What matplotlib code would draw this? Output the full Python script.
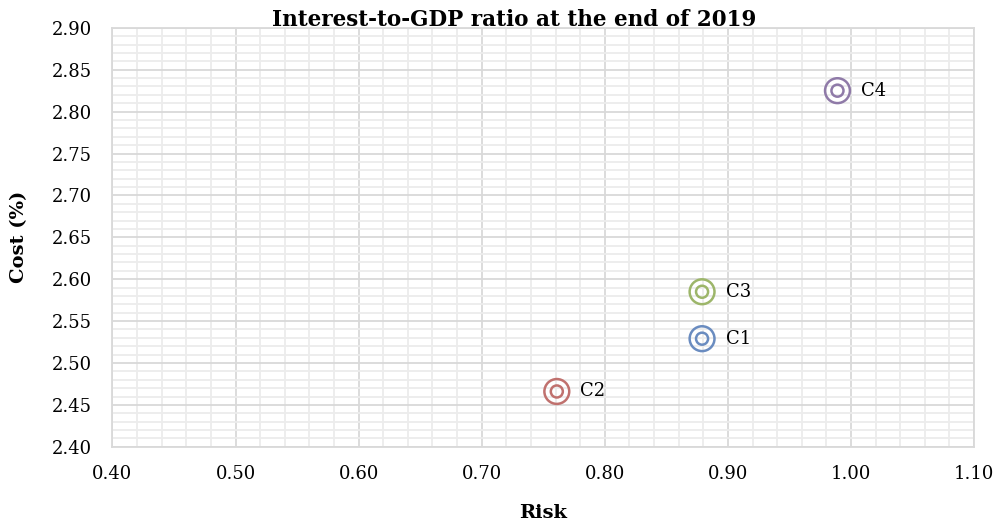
import matplotlib.pyplot as plt
from matplotlib.ticker import MultipleLocator, FormatStrFormatter

names = ['C1', 'C2', 'C3', 'C4']
risk = [0.879, 0.761, 0.879, 0.989]
cost = [2.529, 2.466, 2.585, 2.825]
colors = ['#6a8cc0', '#c0716e', '#9db66a', '#8f7aa8']

plt.rcParams['font.family'] = ['DejaVu Serif']

fig, ax = plt.subplots(figsize=(9.95, 5.25), dpi=100)
fig.subplots_adjust(left=0.113, right=0.979, top=0.947, bottom=0.149)

for n, x, y, c in zip(names, risk, cost, colors):
    ax.scatter(x, y, s=320, facecolors='none', edgecolors=c, linewidths=1.8, zorder=3)
    ax.scatter(x, y, s=75, facecolors='none', edgecolors=c, linewidths=1.8, zorder=3)
    ax.annotate(n, (x, y), xytext=(17, 0), textcoords='offset points',
                va='center', ha='left', fontsize=13)

ax.set_xlim(0.40, 1.10)
ax.set_ylim(2.40, 2.90)
ax.xaxis.set_major_locator(MultipleLocator(0.1))
ax.xaxis.set_minor_locator(MultipleLocator(0.02))
ax.yaxis.set_major_locator(MultipleLocator(0.05))
ax.yaxis.set_minor_locator(MultipleLocator(0.01))
ax.xaxis.set_major_formatter(FormatStrFormatter('%.2f'))
ax.yaxis.set_major_formatter(FormatStrFormatter('%.2f'))

ax.grid(which='major', color='#d9d9d9', linewidth=1.3)
ax.grid(which='minor', color='#ececec', linewidth=1.3)
ax.set_axisbelow(True)
for s in ax.spines.values():
    s.set_color('#d9d9d9')
    s.set_linewidth(1.3)
ax.tick_params(which='both', length=0, labelsize=13)
ax.tick_params(axis='x', pad=13)
ax.tick_params(axis='y', pad=15)

fig.text(0.517, 0.962, 'Interest-to-GDP ratio at the end of 2019', fontsize=15.5,
         fontweight='bold', ha='center', va='center')
ax.set_xlabel('Risk', fontsize=14, fontweight='bold', labelpad=15)
ax.set_ylabel('Cost (%)', fontsize=14, fontweight='bold', labelpad=17)

fig.savefig('out.png', dpi=100)
